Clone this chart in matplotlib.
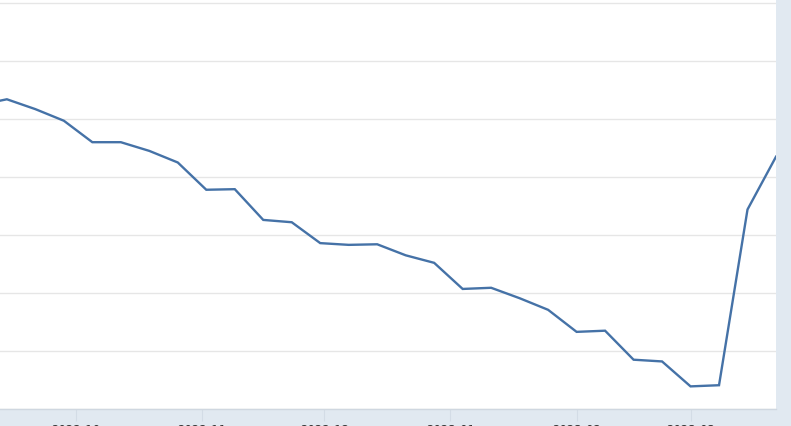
import matplotlib
matplotlib.use("Agg")
import matplotlib.pyplot as plt
import matplotlib.dates as mdates
import numpy as np
import pandas as pd

# Weekly observations (Wednesdays), values in billions of dollars
dates = pd.to_datetime([
    "2022-09-07", "2022-09-14", "2022-09-21", "2022-09-28",
    "2022-10-05", "2022-10-12", "2022-10-19", "2022-10-26",
    "2022-11-02", "2022-11-09", "2022-11-16", "2022-11-23", "2022-11-30",
    "2022-12-07", "2022-12-14", "2022-12-21", "2022-12-28",
    "2023-01-04", "2023-01-11", "2023-01-18", "2023-01-25",
    "2023-02-01", "2023-02-08", "2023-02-15", "2023-02-22",
    "2023-03-01", "2023-03-08", "2023-03-15", "2023-03-22",
])
values = [
    8824, 8834, 8817, 8797,
    8760, 8760, 8745, 8725,
    8678, 8679, 8626, 8622, 8586,
    8583, 8584, 8565, 8552,
    8507, 8509, 8491, 8471,
    8433, 8435, 8385, 8382,
    8339, 8341, 8644, 8735,
]
y_ticks = [8300, 8400, 8500, 8600, 8700, 8800, 8900, 9000]
x_ticks = pd.to_datetime(["2022-10-01", "2022-11-01", "2022-12-01",
                          "2023-01-01", "2023-02-01", "2023-03-01"])

W, H = 791, 426
fig = plt.figure(figsize=(W / 100, H / 100), dpi=100)
fig.patch.set_facecolor("#e1e9f1")

left_px, right_px, top_px, bottom_px = 0, 776, 0, 409
ax = fig.add_axes([left_px / W, (H - bottom_px) / H,
                   (right_px - left_px) / W, (bottom_px - top_px) / H])
ax.set_facecolor("white")

ax.plot(dates, values, color="#4572a7", linewidth=1.7, solid_joinstyle="miter", zorder=3)

px_per_day = 4.066
x0 = pd.Timestamp("2022-10-01") - pd.Timedelta(days=76 / px_per_day)
ax.set_xlim(x0, pd.Timestamp("2023-03-22"))
ax.set_ylim(8300, 8300 + 409 / 0.58)

ax.set_yticks(y_ticks)
ax.yaxis.grid(True, color="#e6e6e6", linewidth=1.0)
ax.tick_params(axis="y", left=False, labelleft=False)

ax.set_xticks(x_ticks)
ax.xaxis.set_major_formatter(mdates.DateFormatter("%Y-%m"))
ax.tick_params(axis="x", direction="out", length=8.5, width=0.8, color="#d3dce6",
               pad=2.2, labelsize=8.5, labelcolor="#333333")

for side in ["top", "left", "right"]:
    ax.spines[side].set_visible(False)
ax.spines["bottom"].set_color("#cfd7e0")
ax.spines["bottom"].set_linewidth(1.0)

fig.savefig("out.png", dpi=100, facecolor=fig.get_facecolor())
